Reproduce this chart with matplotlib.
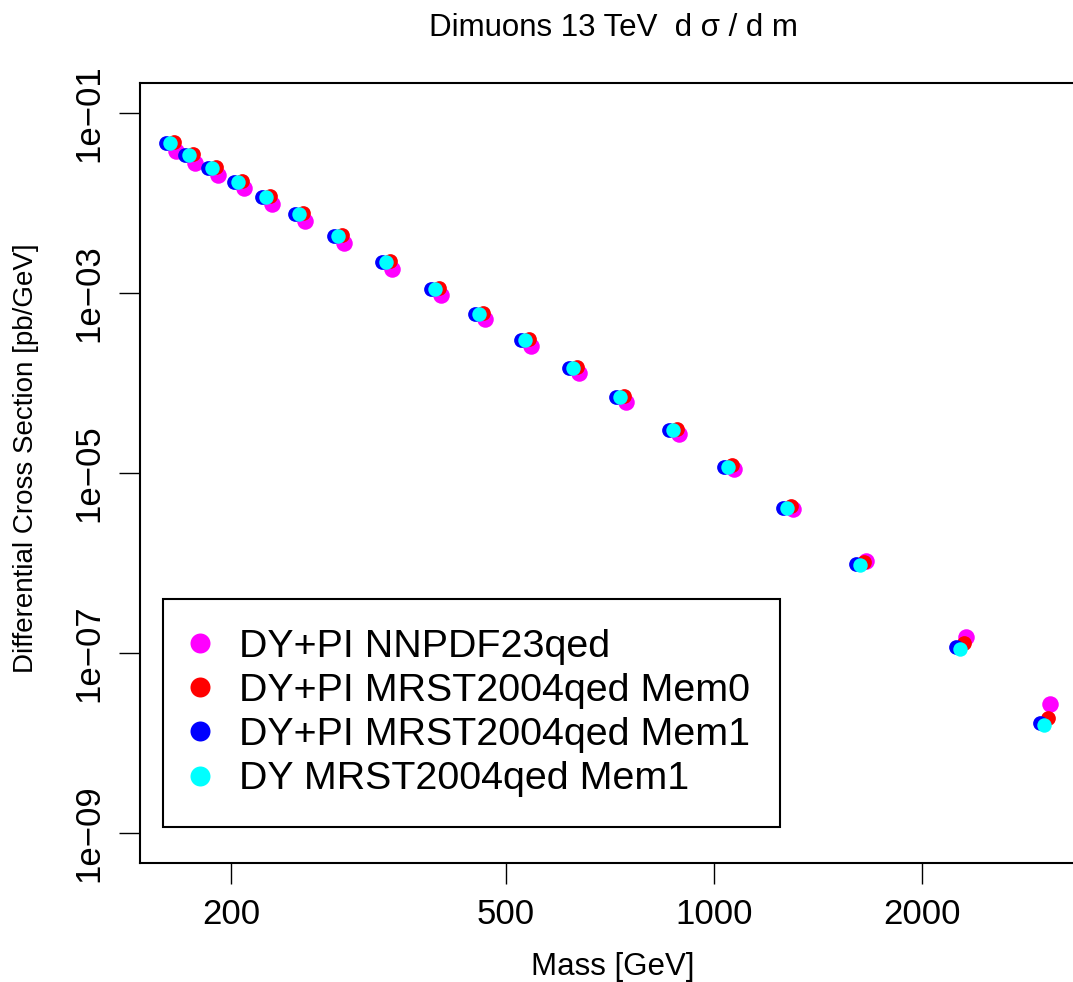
import matplotlib
matplotlib.use("Agg")
import matplotlib.pyplot as plt
from matplotlib.lines import Line2D
import numpy as np

plt.rcParams['font.family'] = ['Liberation Sans', 'DejaVu Sans']

# ---- data ----
mass = [163, 174, 188, 205, 225, 251, 286, 335, 395, 457, 533, 625, 731, 873,
        1048, 1276, 1626, 2270, 3004]

xs_nnpdf = [3.78e-2, 2.78e-2, 2.05e-2, 1.47e-2, 9.78e-3, 6.31e-3, 3.59e-3, 1.85e-3,
            9.52e-4, 5.14e-4, 2.58e-4, 1.29e-4, 6.15e-5, 2.72e-5, 1.11e-5, 3.98e-6,
            1.05e-6, 1.51e-7, 2.70e-8]
xs_mem0 = [4.76e-2, 3.50e-2, 2.51e-2, 1.75e-2, 1.20e-2, 7.75e-3, 4.41e-3, 2.27e-3,
           1.14e-3, 5.99e-4, 3.09e-4, 1.51e-4, 7.17e-5, 3.09e-5, 1.23e-5, 4.30e-6,
           1.03e-6, 1.29e-7, 1.89e-8]
xs_mem1 = [4.64e-2, 3.41e-2, 2.45e-2, 1.71e-2, 1.17e-2, 7.55e-3, 4.30e-3, 2.21e-3,
           1.11e-3, 5.84e-4, 3.01e-4, 1.47e-4, 6.99e-5, 3.01e-5, 1.17e-5, 4.08e-6,
           9.75e-7, 1.17e-7, 1.66e-8]
xs_dy = [4.64e-2, 3.41e-2, 2.45e-2, 1.71e-2, 1.17e-2, 7.55e-3, 4.30e-3, 2.21e-3,
         1.11e-3, 5.84e-4, 3.01e-4, 1.47e-4, 6.99e-5, 3.01e-5, 1.17e-5, 4.08e-6,
         9.50e-7, 1.11e-7, 1.58e-8]

labels = ["DY+PI NNPDF23qed", "DY+PI MRST2004qed Mem0",
          "DY+PI MRST2004qed Mem1", "DY MRST2004qed Mem1"]
colors = ["#ff00ff", "#ff0000", "#0000ff", "#00ffff"]

xticks = [200, 500, 1000, 2000]
yticks = [1e-1, 1e-3, 1e-5, 1e-7, 1e-9]
ytick_labels = ["1e\u221201", "1e\u221203", "1e\u221205", "1e\u221207", "1e\u221209"]

# ---- figure ----
W, H = 1073, 982
fig = plt.figure(figsize=(W / 100, H / 100), dpi=100)
ax = fig.add_axes([140 / W, 1 - 863 / H, (1085 - 140) / W, (863 - 83) / H])
ax.set_xscale('log')
ax.set_yscale('log')

m = np.array(mass, dtype=float)
series = [(xs_nnpdf, 1.020, 11.9), (xs_mem0, 1.0134, 10.6),
          (xs_mem1, 0.9868, 10.6), (xs_dy, 1.0, 10.4)]
for (vals, fx, ms), c in zip(series, colors):
    ax.plot(m * fx, vals, linestyle='none', marker='o', ms=ms,
            mfc=c, mec='none', color=c)

ax.set_xlim(10 ** 2.1693, 10 ** 3.5369)
ax.set_ylim(10 ** -9.333, 10 ** -0.667)

ax.set_xticks(xticks)
ax.set_xticklabels([str(t) for t in xticks])
ax.xaxis.set_minor_locator(matplotlib.ticker.NullLocator())
ax.set_yticks(yticks)
ax.set_yticklabels(ytick_labels, rotation=90, va='center')
ax.yaxis.set_minor_locator(matplotlib.ticker.NullLocator())
ax.tick_params(axis='both', direction='out', length=15, width=1.0,
               labelsize=25, pad=10)

for s in ['left', 'bottom', 'top', 'right']:
    ax.spines[s].set_linewidth(1.5)

# ---- legend ----
handles = [Line2D([], [], linestyle='none', marker='o', ms=14.4, mfc=c, mec='none')
           for c in colors]
leg = ax.legend(handles, labels, loc='lower left',
                bbox_to_anchor=(163 / W, 1 - 827 / H), bbox_transform=fig.transFigure,
                borderaxespad=0, borderpad=0.75, handlelength=0.375, handletextpad=0.8,
                labelspacing=0.21, fontsize=28.4, fancybox=False, framealpha=1,
                edgecolor='black')
leg.get_frame().set_linewidth(1.5)

# ---- texts ----
fig.text(613 / W, 1 - 36 / H, "Dimuons 13 TeV  d \u03c3 / d m", ha='center',
         va='baseline', fontsize=22.5)
fig.text(613 / W, 1 - 975 / H, "Mass [GeV]", ha='center', va='baseline', fontsize=22.5)
fig.text(26 / W, 1 - 458 / H, "Differential Cross Section [pb/GeV]", ha='center',
         va='center', rotation=90, fontsize=20)

fig.savefig("out.png", dpi=100)
